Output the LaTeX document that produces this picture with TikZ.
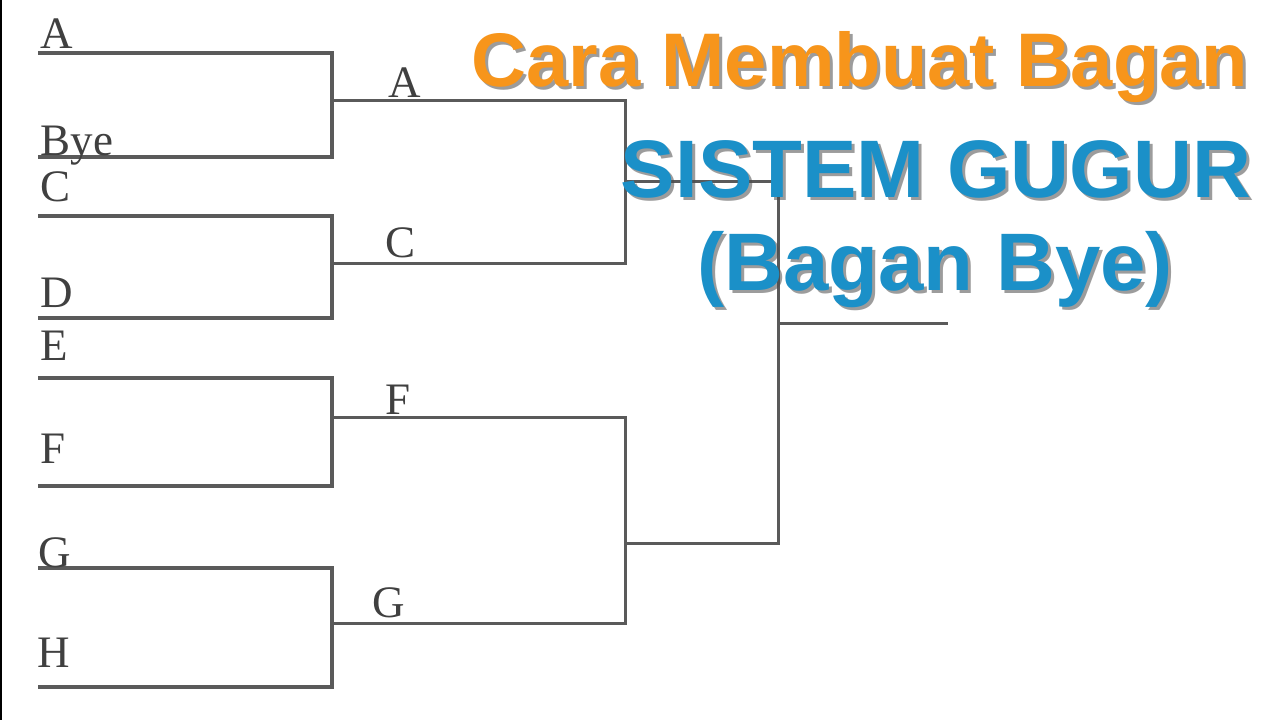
\documentclass[tikz,border=0pt]{standalone}
\usepackage{fontspec}
\setmainfont{Liberation Serif}
\newfontfamily\judulfont{Liberation Sans}

\definecolor{garis}{HTML}{5A5A5A}
\definecolor{oranye}{HTML}{F7951B}
\definecolor{biru}{HTML}{1B90C8}

\tikzset{
    tim/.style={anchor=base west, inner sep=0pt, text=black!75, font=\fontsize{12.8}{14}\selectfont},
    judul/.style={inner sep=0pt, font=\judulfont\bfseries\fontsize{#1}{#1}\selectfont},
    bayang/.style={text=black!70, opacity=0.55}
}

\begin{document}
\begin{tikzpicture}[x=0.01cm, y=-0.01cm]

        \useasboundingbox[fill=white] (0,0) rectangle (1280,720);
        \draw [line width=0.02cm] (1,0) -- (1,720);

        % Babak 1
        \begin{scope}[color=garis]
            % A - Bye
            \draw [line width=0.04cm] (38,53) -- (332,53) -- (332,157) -- (38,157);
            % C - D
            \draw [line width=0.04cm] (38,216) -- (332,216) -- (332,318) -- (38,318);
            % E - F
            \draw [line width=0.04cm] (38,378) -- (332,378) -- (332,486) -- (38,486);
            % G - H
            \draw [line width=0.04cm] (38,568) -- (332,568) -- (332,687) -- (38,687);
        \end{scope}

        % Babak 2
        \begin{scope}[color=garis, line width=0.03cm]
            \draw (332,100) -- (625,100) -- (625,263) -- (332,263);
            \draw (332,417) -- (625,417) -- (625,623) -- (332,623);
        \end{scope}

        % Semifinal + Final
        \begin{scope}[color=garis, line width=0.03cm]
            \draw (625,181) -- (778,181) -- (778,543) -- (625,543);
            \draw (778,323) -- (948,323);
        \end{scope}

        % Nama tim
        \node[tim] (tA) at (40,48) {A};
        \node[tim] (tBye) at (40,155) {Bye};
        \node[tim] (tC) at (40,201) {C};
        \node[tim] (tD) at (40,307) {D};
        \node[tim] (tE) at (40,360) {E};
        \node[tim] (tF) at (40,463) {F};
        \node[tim] (tG) at (38,567) {G};
        \node[tim] (tH) at (37,667) {H};

        \node[tim] (mA) at (388,97) {A};
        \node[tim] (mC) at (385,257) {C};
        \node[tim] (mF) at (385,414) {F};
        \node[tim] (mG) at (372,617) {G};

        % Judul
        \node[judul=21.6, bayang, anchor=base east] at (1252,89) {Cara Membuat Bagan};
        \node[judul=21.6, text=oranye, anchor=base east] (judul1) at (1249,86) {Cara Membuat Bagan};

        \node[judul=23.2, bayang, anchor=base] at (939,200) {SISTEM GUGUR};
        \node[judul=23.2, text=biru, anchor=base] (judul2) at (936,197) {SISTEM GUGUR};

        \node[judul=23.2, bayang, anchor=base] at (938,293) {(Bagan Bye)};
        \node[judul=23.2, text=biru, anchor=base] (judul3) at (935,290) {(Bagan Bye)};

    \end{tikzpicture}
\end{document}
